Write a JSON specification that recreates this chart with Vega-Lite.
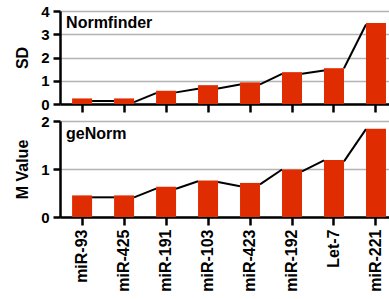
{
  "$schema": "https://vega.github.io/schema/vega-lite/v6.json",
  "padding": {"left": 14, "top": 4, "right": 0, "bottom": 0},
  "bounds": "flush",
  "spacing": 17,
  "datasets": {
    "bars": [
      {"gene": "miR-93", "method": "Normfinder", "value": 0.24},
      {"gene": "miR-425", "method": "Normfinder", "value": 0.24},
      {"gene": "miR-191", "method": "Normfinder", "value": 0.57},
      {"gene": "miR-103", "method": "Normfinder", "value": 0.81},
      {"gene": "miR-423", "method": "Normfinder", "value": 0.93},
      {"gene": "miR-192", "method": "Normfinder", "value": 1.37},
      {"gene": "Let-7", "method": "Normfinder", "value": 1.54},
      {"gene": "miR-221", "method": "Normfinder", "value": 3.48},
      {"gene": "miR-93", "method": "geNorm", "value": 0.45},
      {"gene": "miR-425", "method": "geNorm", "value": 0.45},
      {"gene": "miR-191", "method": "geNorm", "value": 0.63},
      {"gene": "miR-103", "method": "geNorm", "value": 0.76},
      {"gene": "miR-423", "method": "geNorm", "value": 0.71},
      {"gene": "miR-192", "method": "geNorm", "value": 0.99},
      {"gene": "Let-7", "method": "geNorm", "value": 1.19},
      {"gene": "miR-221", "method": "geNorm", "value": 1.84}
    ],
    "segs": [
      {"method": "Normfinder", "from": "miR-93", "to": "miR-425", "start": 0.13, "end": 0.13},
      {"method": "Normfinder", "from": "miR-425", "to": "miR-191", "start": 0.08, "end": 0.47},
      {"method": "Normfinder", "from": "miR-191", "to": "miR-103", "start": 0.5, "end": 0.66},
      {"method": "Normfinder", "from": "miR-103", "to": "miR-423", "start": 0.67, "end": 0.84},
      {"method": "Normfinder", "from": "miR-423", "to": "miR-192", "start": 0.84, "end": 1.3},
      {"method": "Normfinder", "from": "miR-192", "to": "Let-7", "start": 1.3, "end": 1.44},
      {"method": "Normfinder", "from": "Let-7", "to": "miR-221", "start": 1.54, "end": 3.42},
      {"method": "geNorm", "from": "miR-93", "to": "miR-425", "start": 0.41, "end": 0.41},
      {"method": "geNorm", "from": "miR-425", "to": "miR-191", "start": 0.41, "end": 0.59},
      {"method": "geNorm", "from": "miR-191", "to": "miR-103", "start": 0.59, "end": 0.745},
      {"method": "geNorm", "from": "miR-103", "to": "miR-423", "start": 0.73, "end": 0.64},
      {"method": "geNorm", "from": "miR-423", "to": "miR-192", "start": 0.68, "end": 0.99},
      {"method": "geNorm", "from": "miR-192", "to": "Let-7", "start": 0.95, "end": 1.18},
      {"method": "geNorm", "from": "Let-7", "to": "miR-221", "start": 1.16, "end": 1.83}
    ],
    "methods": [
      {"method": "Normfinder"},
      {"method": "geNorm"}
    ]
  },
  "vconcat": [
    {
      "width": 329,
      "height": 93,
      "layer": [
        {
          "data": {"name": "segs"},
          "transform": [{"filter": "datum.method === 'Normfinder'"}],
          "mark": {"type": "rule", "color": "black", "strokeWidth": 2},
          "encoding": {
            "x": {"field": "from", "type": "nominal", "bandPosition": 1, "sort": null,
                  "scale": {"domain": ["miR-93","miR-425","miR-191","miR-103","miR-423","miR-192","Let-7","miR-221"], "paddingInner": 0.524, "paddingOuter": 0.18, "align": 0.8},
                  "axis": {"labels": false, "title": null, "tickSize": 8}},
            "x2": {"field": "to", "bandPosition": 0},
            "y": {"field": "start", "type": "quantitative", "scale": {"domain": [0, 4], "nice": false},
                  "axis": {"tickCount": 4, "title": "SD"}},
            "y2": {"field": "end"}
          }
        },
        {
          "data": {"name": "bars"},
          "transform": [{"filter": "datum.method === 'Normfinder'"}],
          "mark": {"type": "bar", "color": "#df2c00"},
          "encoding": {
            "x": {"field": "gene", "type": "nominal", "sort": null,
                  "axis": {"labels": false, "title": null, "tickSize": 8}},
            "y": {"field": "value", "type": "quantitative",
                  "axis": {"tickCount": 4, "title": "SD"}}
          }
        },
        {
          "data": {"name": "methods"},
          "transform": [{"filter": "datum.method === 'Normfinder'"}],
          "mark": {"type": "text", "align": "left", "baseline": "alphabetic", "dx": -6, "font": "Liberation Sans", "fontWeight": "bold", "fontSize": 16, "color": "black"},
          "encoding": {
            "x": {"datum": "miR-93", "bandPosition": 0,
                  "axis": {"labels": false, "title": null, "tickSize": 8}},
            "y": {"datum": 3.26,
                  "axis": {"tickCount": 4, "title": "SD"}},
            "text": {"field": "method"}
          }
        }
      ]
    },
    {
      "width": 329,
      "height": 96,
      "layer": [
        {
          "data": {"name": "segs"},
          "transform": [{"filter": "datum.method === 'geNorm'"}],
          "mark": {"type": "rule", "color": "black", "strokeWidth": 2},
          "encoding": {
            "x": {"field": "from", "type": "nominal", "bandPosition": 1, "sort": null,
                  "scale": {"domain": ["miR-93","miR-425","miR-191","miR-103","miR-423","miR-192","Let-7","miR-221"], "paddingInner": 0.524, "paddingOuter": 0.18, "align": 0.8},
                  "axis": {"labelAngle": -90, "title": null, "tickSize": 8, "labelFontSize": 16, "labelPadding": 4}},
            "x2": {"field": "to", "bandPosition": 0},
            "y": {"field": "start", "type": "quantitative", "scale": {"domain": [0, 2], "nice": false},
                  "axis": {"tickCount": 2, "title": "M Value"}},
            "y2": {"field": "end"}
          }
        },
        {
          "data": {"name": "bars"},
          "transform": [{"filter": "datum.method === 'geNorm'"}],
          "mark": {"type": "bar", "color": "#df2c00"},
          "encoding": {
            "x": {"field": "gene", "type": "nominal", "sort": null,
                  "axis": {"labelAngle": -90, "title": null, "tickSize": 8, "labelFontSize": 16, "labelPadding": 4}},
            "y": {"field": "value", "type": "quantitative",
                  "axis": {"tickCount": 2, "title": "M Value"}}
          }
        },
        {
          "data": {"name": "methods"},
          "transform": [{"filter": "datum.method === 'geNorm'"}],
          "mark": {"type": "text", "align": "left", "baseline": "alphabetic", "dx": -6, "font": "Liberation Sans", "fontWeight": "bold", "fontSize": 16, "color": "black"},
          "encoding": {
            "x": {"datum": "miR-93", "bandPosition": 0,
                  "axis": {"labelAngle": -90, "title": null, "tickSize": 8, "labelFontSize": 16, "labelPadding": 4}},
            "y": {"datum": 1.625,
                  "axis": {"tickCount": 2, "title": "M Value"}},
            "text": {"field": "method"}
          }
        }
      ]
    }
  ],
  "config": {
    "view": {"stroke": null},
    "axis": {
      "domainColor": "black", "domainWidth": 2.5,
      "tickColor": "black", "tickWidth": 2.5,
      "labelColor": "black", "titleColor": "black",
      "labelFont": "Liberation Sans", "titleFont": "Liberation Sans",
      "labelFontWeight": "bold", "titleFontWeight": "bold"
    },
    "axisX": {"grid": false},
    "axisY": {"grid": true, "gridColor": "#b3b3b3", "gridWidth": 1.5, "labelOverlap": false, "labelFlush": false, "labelFontSize": 15, "titleFontSize": 16, "tickSize": 7, "labelPadding": 4, "titlePadding": 10}
  }
}
